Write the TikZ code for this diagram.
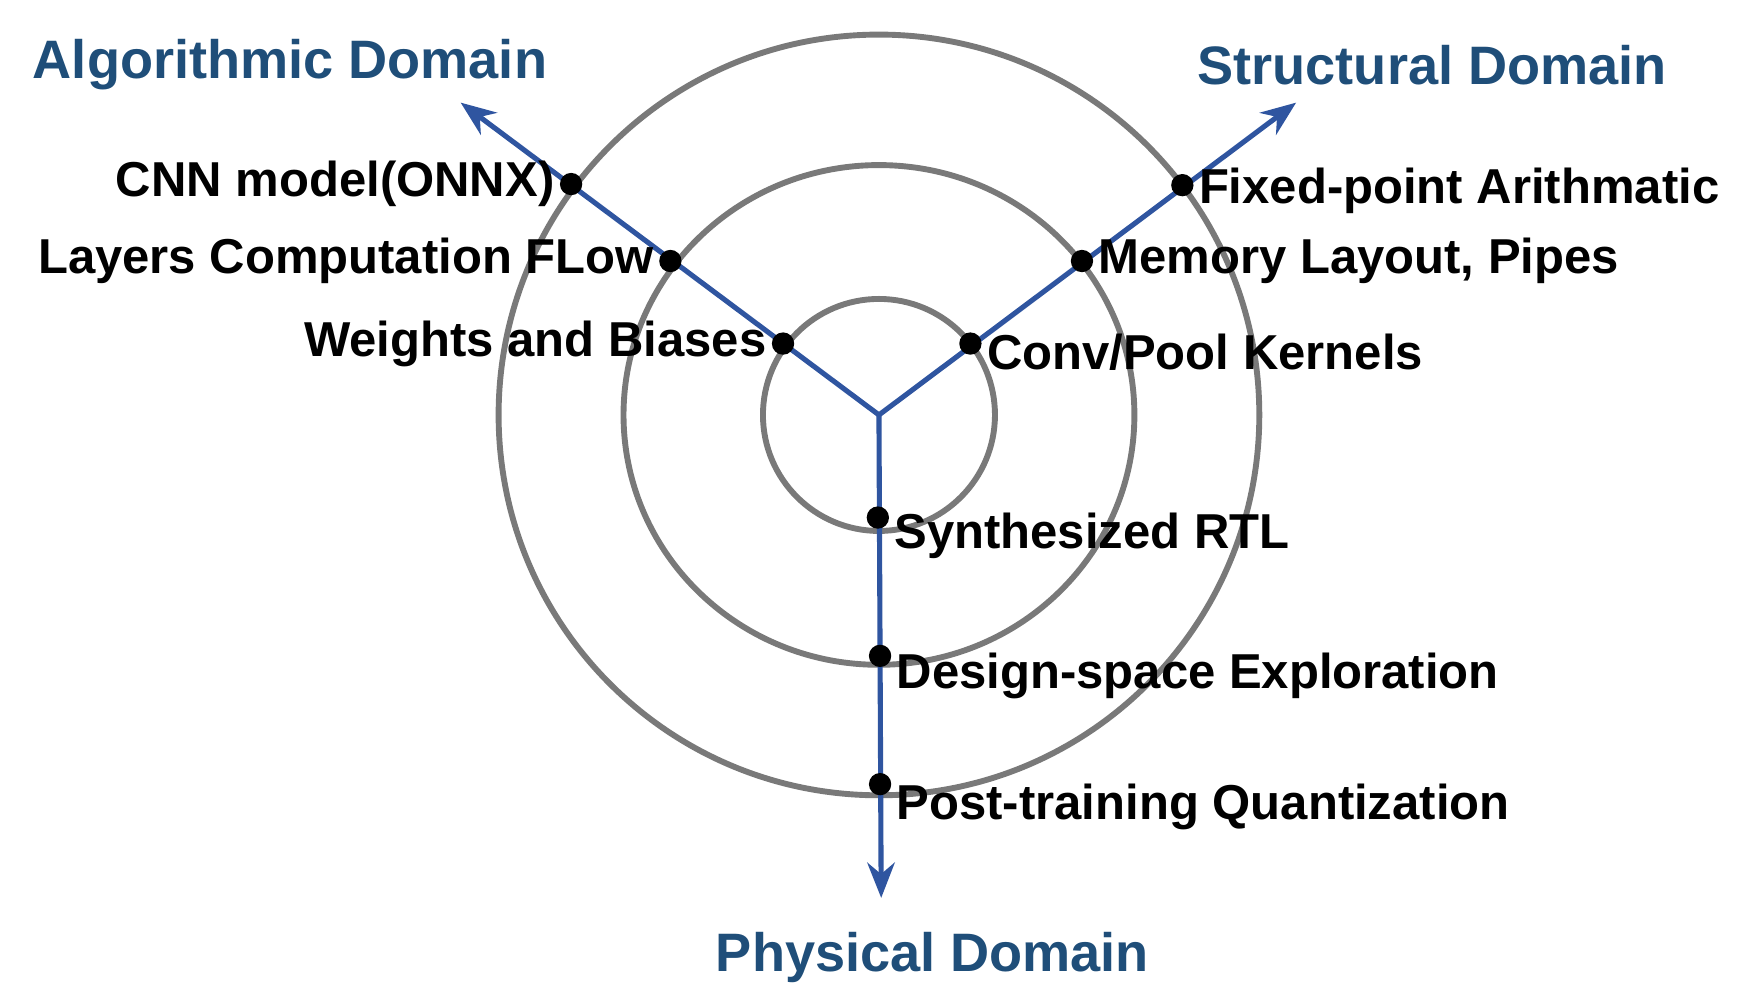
\documentclass[tikz,border=0pt]{standalone}
\usepackage{fontspec}
\setmainfont{Liberation Sans}
\usetikzlibrary{arrows.meta}
\definecolor{dom}{HTML}{1F4E79}
\definecolor{ax}{HTML}{2F55A0}
\begin{document}
\begin{tikzpicture}[x=0.01cm,y=-0.01cm,
  ring/.style={draw=gray!95!black,line width=1.5pt},
  axis/.style={draw=ax,line width=1.3pt,-{Stealth[length=9pt,width=7pt]}},
  dot/.style={circle,fill=black,inner sep=0pt,minimum size=0.2cm},
  lab/.style={font=\fontsize{12.5pt}{14pt}\selectfont\bfseries,inner sep=1pt},
  dtitle/.style={font=\fontsize{13.8pt}{16pt}\selectfont\bfseries,text=dom}]
\useasboundingbox (0,0) rectangle (1568,900);
\coordinate (c) at (788,372);
\draw[ring] (c) circle (104);
\draw[ring] (c) ellipse (229 and 224);
\draw[ring] (c) circle (341);
\coordinate (al) at (413,92);
\coordinate (sr) at (1162,92);
\coordinate (ph) at (790,805);
\draw[axis] (c) -- (al);
\draw[axis] (c) -- (sr);
\draw[axis] (c) -- (ph);
\node[dot] (a1) at (702,308) {};
\node[dot] (a2) at (601,234) {};
\node[dot] (a3) at (512,165) {};
\node[dot] (s1) at (870,308) {};
\node[dot] (s2) at (970,234) {};
\node[dot] (s3) at (1060,166) {};
\node[dot] (p1) at (787,464) {};
\node[dot] (p2) at (789,588) {};
\node[dot] (p3) at (789,703) {};
\node[lab,anchor=east] at (a1.west) {Weights and Biases};
\node[lab,anchor=east] at (a2.west) {Layers Computation FLow};
\node[lab,anchor=east] at (a3.west) {CNN model(ONNX)};
\node[lab,anchor=west] at ([yshift=-0.08cm]s1.east) {Conv/Pool Kernels};
\node[lab,anchor=west] at (s2.east) {Memory Layout, Pipes};
\node[lab,anchor=west] at ([yshift=-0.05cm]s3.east) {Fixed-point Arithmatic};
\node[lab,anchor=west] at ([yshift=-0.16cm]p1.east) {Synthesized RTL};
\node[lab,anchor=west] at ([yshift=-0.18cm]p2.east) {Design-space Exploration};
\node[lab,anchor=west] at ([yshift=-0.2cm]p3.east) {Post-training Quantization};
\node[dtitle] (ta) at (260,58) {Algorithmic Domain};
\node[dtitle] (ts) at (1284,58) {Structural Domain};
\node[dtitle] (tp) at (836,858) {Physical Domain};
\end{tikzpicture}
\end{document}
